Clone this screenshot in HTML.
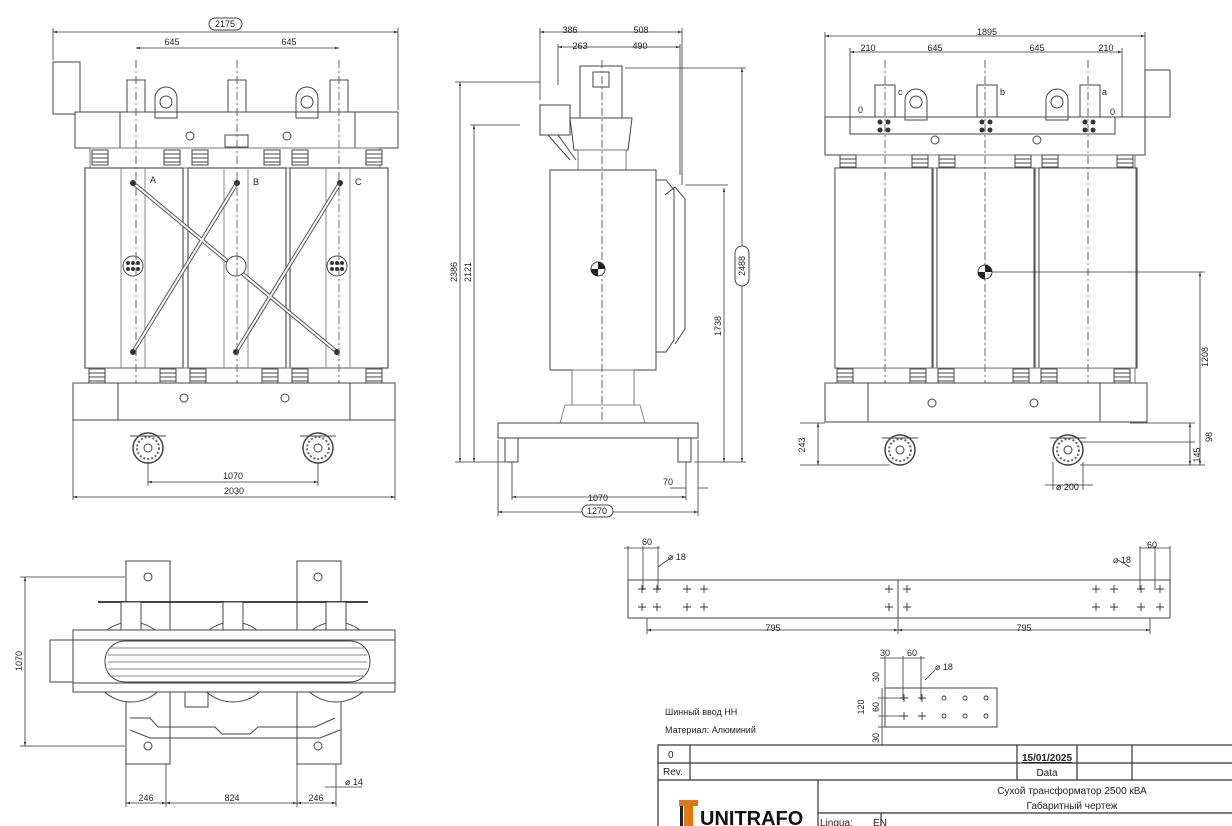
<!DOCTYPE html>
<html><head><meta charset="utf-8">
<style>
html,body{margin:0;padding:0;background:#fff;}
svg{display:block;font-family:"Liberation Sans","Noto Sans CJK SC",sans-serif;}
</style></head><body>
<svg width="1232" height="826" viewBox="0 0 1232 826" xmlns="http://www.w3.org/2000/svg">
<defs>
<marker id="a" viewBox="0 0 10 10" refX="10" refY="5" markerWidth="7" markerHeight="5" orient="auto-start-reverse"><path d="M0,2 L10,5 L0,8z" fill="#333"/></marker>
<g id="coil"><rect x="0" y="0" width="98" height="200" fill="#fff" stroke="#555" stroke-width="1.2"/><line x1="36" y1="0" x2="36" y2="200" stroke="#888"/><line x1="60" y1="0" x2="60" y2="200" stroke="#888"/></g>
<g id="wheel"><circle r="15" fill="#fff" stroke="#444" stroke-width="1.5"/><circle r="11" fill="none" stroke="#666" stroke-dasharray="2 2" stroke-width="2"/><circle r="4" fill="#fff" stroke="#444"/><line x1="-18" y1="-12" x2="18" y2="-12" stroke="#444"/></g>
<g id="ins"><rect x="-8" y="0" width="16" height="15" fill="#fff" stroke="#444"/><line x1="-8" y1="4" x2="8" y2="4" stroke="#444"/><line x1="-8" y1="8" x2="8" y2="8" stroke="#444"/><line x1="-8" y1="12" x2="8" y2="12" stroke="#444"/></g>
</defs>
<g fill="none" stroke="#444" stroke-width="1">
<!-- ===== FRONT VIEW ===== -->
<rect x="53" y="62" width="27" height="52" fill="#fff"/>
<rect x="75" y="112" width="323" height="36" fill="#fff"/>
<rect x="127" y="80" width="18" height="32"/><rect x="228" y="80" width="18" height="32"/><rect x="330" y="80" width="18" height="32"/>
<path d="M155,118 v-20 a11,11 0 0 1 22,0 v20z"/><circle cx="166" cy="102" r="6"/>
<path d="M296,118 v-20 a11,11 0 0 1 22,0 v20z"/><circle cx="307" cy="102" r="6"/>
<line x1="120" y1="112" x2="120" y2="148"/><line x1="355" y1="112" x2="355" y2="148"/>
<circle cx="190" cy="136" r="4"/><circle cx="287" cy="136" r="4"/>
<rect x="225" y="135" width="23" height="12"/>
<g stroke="#777"><rect x="90" y="148" width="290" height="20"/></g>
<use href="#ins" x="100" y="150"/><use href="#ins" x="172" y="150"/><use href="#ins" x="200" y="150"/><use href="#ins" x="272" y="150"/><use href="#ins" x="300" y="150"/><use href="#ins" x="374" y="150"/>
<use href="#coil" x="85" y="168"/><use href="#coil" x="188" y="168"/><use href="#coil" x="290" y="168"/>
<g stroke="#555" stroke-width="4"><line x1="133" y1="183" x2="337" y2="352"/><line x1="237" y1="183" x2="133" y2="352"/><line x1="340" y1="183" x2="236" y2="352"/></g>
<g stroke="#fff" stroke-width="2"><line x1="133" y1="183" x2="337" y2="352"/><line x1="237" y1="183" x2="133" y2="352"/><line x1="340" y1="183" x2="236" y2="352"/></g>
<circle cx="133" cy="266" r="10" fill="#fff"/><circle cx="236" cy="266" r="10" fill="#fff"/><circle cx="337" cy="266" r="10" fill="#fff"/>
<g fill="#333" stroke="none"><circle cx="128" cy="263" r="2"/><circle cx="133" cy="263" r="2"/><circle cx="138" cy="263" r="2"/><circle cx="128" cy="269" r="2"/><circle cx="133" cy="269" r="2"/><circle cx="138" cy="269" r="2"/>
<circle cx="332" cy="263" r="2"/><circle cx="337" cy="263" r="2"/><circle cx="342" cy="263" r="2"/><circle cx="332" cy="269" r="2"/><circle cx="337" cy="269" r="2"/><circle cx="342" cy="269" r="2"/>
<circle cx="133" cy="183" r="3"/><circle cx="237" cy="183" r="3"/><circle cx="340" cy="183" r="3"/><circle cx="133" cy="352" r="3"/><circle cx="236" cy="352" r="3"/><circle cx="337" cy="352" r="3"/></g>
<g stroke="#666" stroke-dasharray="8 3 2 3"><line x1="136" y1="60" x2="136" y2="420"/><line x1="237" y1="60" x2="237" y2="420"/><line x1="339" y1="60" x2="339" y2="420"/></g>
<rect x="90" y="368" width="290" height="15" stroke="#777"/>
<use href="#ins" x="97" y="369"/><use href="#ins" x="168" y="369"/><use href="#ins" x="198" y="369"/><use href="#ins" x="270" y="369"/><use href="#ins" x="300" y="369"/><use href="#ins" x="374" y="369"/>
<rect x="73" y="383" width="322" height="37" fill="#fff"/>
<line x1="118" y1="383" x2="118" y2="420"/><line x1="350" y1="383" x2="350" y2="420"/>
<circle cx="184" cy="398" r="4"/><circle cx="285" cy="398" r="4"/>
<use href="#wheel" x="148" y="448"/><use href="#wheel" x="318" y="448"/>
<!-- dims -->
<g stroke="#333" stroke-width="0.8">
<line x1="53" y1="32" x2="398" y2="32" marker-start="url(#a)" marker-end="url(#a)"/>
<line x1="53" y1="28" x2="53" y2="60"/><line x1="398" y1="28" x2="398" y2="110"/>
<line x1="136" y1="48" x2="339" y2="48" marker-start="url(#a)" marker-end="url(#a)"/>
<line x1="148" y1="482" x2="318" y2="482" marker-start="url(#a)" marker-end="url(#a)"/>
<line x1="148" y1="462" x2="148" y2="486"/><line x1="318" y1="462" x2="318" y2="486"/>
<line x1="73" y1="497" x2="395" y2="497" marker-start="url(#a)" marker-end="url(#a)"/>
<line x1="73" y1="420" x2="73" y2="500"/><line x1="395" y1="420" x2="395" y2="500"/>
</g>
<rect x="209" y="18" width="33" height="12" rx="6" fill="#fff"/>

<!-- ===== SIDE VIEW ===== -->
<rect x="580" y="66" width="42" height="52" fill="#fff"/>
<rect x="593" y="72" width="16" height="15"/>
<path d="M570,118 L632,118 L628,150 L574,150z"/>
<rect x="540" y="105" width="30" height="30"/>
<path d="M548,135 L570,160 M558,135 L576,160"/>
<rect x="578" y="150" width="48" height="20" stroke="#777"/>
<rect x="550" y="170" width="106" height="200" fill="#fff"/>
<path d="M656,180 h10 l8,10 v150 l-8,12 h-10"/>
<path d="M665,195 l10,-8 l10,12 v130 l-10,15"/>
<rect x="572" y="370" width="62" height="35" stroke="#777"/>
<path d="M565,405 L640,405 L645,423 L560,423z" stroke="#888"/>
<rect x="498" y="423" width="200" height="15" fill="#fff"/>
<rect x="505" y="438" width="13" height="24"/><rect x="678" y="438" width="13" height="24"/>
<line x1="602" y1="60" x2="602" y2="420" stroke="#666" stroke-dasharray="8 3 2 3"/>
<g stroke="#333" stroke-width="0.8">
<line x1="540" y1="32" x2="682" y2="32" marker-start="url(#a)" marker-end="url(#a)"/>
<line x1="558" y1="47" x2="680" y2="47" marker-start="url(#a)" marker-end="url(#a)"/>
<line x1="540" y1="28" x2="540" y2="100"/><line x1="682" y1="28" x2="682" y2="185"/><line x1="558" y1="44" x2="558" y2="85"/><line x1="680" y1="44" x2="680" y2="175"/>
<line x1="460" y1="82" x2="460" y2="462" marker-start="url(#a)" marker-end="url(#a)"/>
<line x1="455" y1="82" x2="540" y2="82"/>
<line x1="474" y1="125" x2="474" y2="462" marker-start="url(#a)" marker-end="url(#a)"/>
<line x1="470" y1="125" x2="520" y2="125"/>
<line x1="455" y1="462" x2="505" y2="462"/>
<line x1="742" y1="68" x2="742" y2="462" marker-start="url(#a)" marker-end="url(#a)"/>
<line x1="625" y1="68" x2="746" y2="68"/>
<line x1="724" y1="188" x2="724" y2="462" marker-start="url(#a)" marker-end="url(#a)"/>
<line x1="685" y1="185" x2="728" y2="185"/><line x1="694" y1="462" x2="746" y2="462"/>
<line x1="512" y1="497" x2="686" y2="497" marker-start="url(#a)" marker-end="url(#a)"/>
<line x1="498" y1="512" x2="698" y2="512" marker-start="url(#a)" marker-end="url(#a)"/>
<line x1="498" y1="440" x2="498" y2="516"/><line x1="698" y1="440" x2="698" y2="516"/>
<line x1="512" y1="462" x2="512" y2="500"/><line x1="686" y1="462" x2="686" y2="500"/>
<line x1="670" y1="488" x2="686" y2="488"/><line x1="698" y1="488" x2="708" y2="488"/>
</g>
<rect x="735" y="246" width="14" height="40" rx="7" fill="#fff"/>
<rect x="582" y="505" width="31" height="12" rx="6" fill="#fff"/>
<circle cx="598" cy="269" r="7" fill="#fff"/><path d="M598,262 a7,7 0 0 1 7,7 h-7z M598,276 a7,7 0 0 1 -7,-7 h7z" fill="#222" stroke="none"/>

<!-- ===== RIGHT VIEW ===== -->
<rect x="1145" y="70" width="25" height="47" fill="#fff"/>
<rect x="825" y="117" width="320" height="38" fill="#fff"/>
<rect x="850" y="117" width="265" height="17"/>
<rect x="875" y="85" width="20" height="32"/><rect x="977" y="85" width="20" height="32"/><rect x="1080" y="85" width="20" height="32"/>
<path d="M905,120 v-20 a11,11 0 0 1 22,0 v20z"/><circle cx="916" cy="102" r="6"/>
<path d="M1046,120 v-20 a11,11 0 0 1 22,0 v20z"/><circle cx="1057" cy="102" r="6"/>
<g fill="#333" stroke="none"><circle cx="880" cy="122" r="2.5"/><circle cx="888" cy="122" r="2.5"/><circle cx="880" cy="130" r="2.5"/><circle cx="888" cy="130" r="2.5"/><circle cx="982" cy="122" r="2.5"/><circle cx="990" cy="122" r="2.5"/><circle cx="982" cy="130" r="2.5"/><circle cx="990" cy="130" r="2.5"/><circle cx="1085" cy="122" r="2.5"/><circle cx="1093" cy="122" r="2.5"/><circle cx="1085" cy="130" r="2.5"/><circle cx="1093" cy="130" r="2.5"/></g>
<circle cx="935" cy="140" r="4"/><circle cx="1037" cy="140" r="4"/>
<rect x="840" y="155" width="295" height="13" stroke="#777"/>
<use href="#ins" x="848" y="155"/><use href="#ins" x="920" y="155"/><use href="#ins" x="947" y="155"/><use href="#ins" x="1023" y="155"/><use href="#ins" x="1050" y="155"/><use href="#ins" x="1125" y="155"/>
<use href="#coil" x="835" y="168"/><use href="#coil" x="937" y="168"/><use href="#coil" x="1039" y="168"/>
<rect x="835" y="168" width="97" height="200" fill="#fff" stroke="#555"/><rect x="937" y="168" width="97" height="200" fill="#fff" stroke="#555"/><rect x="1039" y="168" width="97" height="200" fill="#fff" stroke="#555"/>
<g stroke="#666" stroke-dasharray="8 3 2 3"><line x1="885" y1="60" x2="885" y2="420"/><line x1="985" y1="60" x2="985" y2="420"/><line x1="1088" y1="60" x2="1088" y2="420"/></g>
<circle cx="985" cy="272" r="7" fill="#fff"/><path d="M985,265 a7,7 0 0 1 7,7 h-7z M985,279 a7,7 0 0 1 -7,-7 h7z" fill="#222" stroke="none"/>
<rect x="840" y="368" width="295" height="15" stroke="#777"/>
<use href="#ins" x="845" y="369"/><use href="#ins" x="918" y="369"/><use href="#ins" x="946" y="369"/><use href="#ins" x="1021" y="369"/><use href="#ins" x="1049" y="369"/><use href="#ins" x="1122" y="369"/>
<rect x="825" y="383" width="322" height="39" fill="#fff"/>
<line x1="868" y1="383" x2="868" y2="422"/><line x1="1100" y1="383" x2="1100" y2="422"/>
<circle cx="932" cy="403" r="4"/><circle cx="1034" cy="403" r="4"/>
<use href="#wheel" x="900" y="450"/><use href="#wheel" x="1068" y="450"/>
<g stroke="#333" stroke-width="0.8">
<line x1="825" y1="36" x2="1145" y2="36" marker-start="url(#a)" marker-end="url(#a)"/>
<line x1="825" y1="32" x2="825" y2="117"/><line x1="1145" y1="32" x2="1145" y2="70"/>
<line x1="850" y1="52" x2="1122" y2="52" marker-start="url(#a)" marker-end="url(#a)"/>
<line x1="850" y1="48" x2="850" y2="117"/><line x1="1122" y1="48" x2="1122" y2="117"/>
<line x1="992" y1="272" x2="1205" y2="272"/>
<line x1="1200" y1="272" x2="1200" y2="465" marker-start="url(#a)" marker-end="url(#a)"/>
<line x1="1190" y1="423" x2="1190" y2="465" marker-start="url(#a)" marker-end="url(#a)"/>
<line x1="1190" y1="442" x2="1190" y2="465"/>
<line x1="1080" y1="442" x2="1195" y2="442"/>
<line x1="1080" y1="465" x2="1205" y2="465"/><line x1="1130" y1="423" x2="1195" y2="423"/>
<line x1="818" y1="423" x2="818" y2="465" marker-start="url(#a)" marker-end="url(#a)"/>
<line x1="800" y1="465" x2="890" y2="465"/><line x1="800" y1="423" x2="825" y2="423"/>
<line x1="1045" y1="485" x2="1093" y2="485"/>
<line x1="1053" y1="462" x2="1053" y2="490"/><line x1="1083" y1="462" x2="1083" y2="490"/>
</g>

<!-- ===== PLAN VIEW ===== -->
<rect x="126" y="561" width="44" height="203" fill="#fff"/>
<rect x="297" y="561" width="44" height="203" fill="#fff"/>
<circle cx="148" cy="577" r="4"/><circle cx="318" cy="577" r="4"/><circle cx="148" cy="746" r="4"/><circle cx="318" cy="746" r="4"/>
<circle cx="131" cy="662" r="40" fill="#fff"/><circle cx="233" cy="662" r="40" fill="#fff"/><circle cx="336" cy="662" r="40" fill="#fff"/>
<line x1="98" y1="602" x2="368" y2="602" stroke-width="2"/>
<rect x="121" y="602" width="20" height="30" fill="#fff"/><rect x="223" y="602" width="20" height="30" fill="#fff"/><rect x="326" y="602" width="20" height="30" fill="#fff"/>
<rect x="50" y="640" width="23" height="42" fill="#fff"/>
<rect x="73" y="630" width="322" height="62" fill="#fff"/>
<rect x="73" y="630" width="322" height="10"/><rect x="73" y="683" width="322" height="9"/>
<rect x="105" y="641" width="265" height="41" rx="20" fill="#fff"/>
<g stroke="#888"><line x1="110" y1="648" x2="365" y2="648"/><line x1="108" y1="655" x2="367" y2="655"/><line x1="108" y1="662" x2="367" y2="662"/><line x1="108" y1="669" x2="367" y2="669"/><line x1="110" y1="676" x2="365" y2="676"/></g>
<rect x="185" y="692" width="23" height="15"/>
<path d="M130,718 L150,718 L158,727 L215,727 L222,734 L250,734 L258,727 L315,727 L335,718 M130,730 L150,738 L320,738 L340,730"/>
<g stroke="#333" stroke-width="0.8">
<line x1="25" y1="577" x2="25" y2="746" marker-start="url(#a)" marker-end="url(#a)"/>
<line x1="20" y1="577" x2="125" y2="577"/><line x1="20" y1="746" x2="125" y2="746"/>
<line x1="126" y1="803" x2="166" y2="803" marker-start="url(#a)" marker-end="url(#a)"/>
<line x1="166" y1="803" x2="297" y2="803" marker-start="url(#a)" marker-end="url(#a)"/>
<line x1="297" y1="803" x2="336" y2="803" marker-start="url(#a)" marker-end="url(#a)"/>
<line x1="126" y1="764" x2="126" y2="807"/><line x1="166" y1="764" x2="166" y2="807"/><line x1="297" y1="764" x2="297" y2="807"/><line x1="336" y1="764" x2="336" y2="807"/>
<line x1="325" y1="787" x2="362" y2="787"/>
</g>

<!-- ===== BUSBAR ===== -->
<rect x="628" y="580" width="542" height="38" fill="#fff"/>
<line x1="898" y1="580" x2="898" y2="618"/>
<g stroke="#333" stroke-width="0.8">
<line x1="628" y1="546" x2="628" y2="580"/><line x1="643" y1="546" x2="643" y2="590"/><line x1="658" y1="546" x2="658" y2="590"/>
<line x1="624" y1="548" x2="660" y2="548"/>
<line x1="1140" y1="548" x2="1170" y2="548"/><line x1="1140" y1="546" x2="1140" y2="590"/><line x1="1155" y1="546" x2="1155" y2="590"/><line x1="1170" y1="546" x2="1170" y2="580"/>
<line x1="647" y1="630" x2="898" y2="630" marker-start="url(#a)" marker-end="url(#a)"/>
<line x1="898" y1="630" x2="1150" y2="630" marker-start="url(#a)" marker-end="url(#a)"/>
<line x1="647" y1="618" x2="647" y2="634"/><line x1="898" y1="618" x2="898" y2="634"/><line x1="1150" y1="618" x2="1150" y2="634"/>
<line x1="658" y1="567" x2="672" y2="557"/><line x1="1130" y1="567" x2="1118" y2="560"/>
</g>
<g stroke="#333" stroke-width="0.9">
<path d="M638,589h8M642,585v8 M638,607h8M642,603v8 M653,589h8M657,585v8 M653,607h8M657,603v8 M683,589h8M687,585v8 M683,607h8M687,603v8 M700,589h8M704,585v8 M700,607h8M704,603v8 M885,589h8M889,585v8 M885,607h8M889,603v8 M903,589h8M907,585v8 M903,607h8M907,603v8 M1092,589h8M1096,585v8 M1092,607h8M1096,603v8 M1110,589h8M1114,585v8 M1110,607h8M1114,603v8 M1137,589h8M1141,585v8 M1137,607h8M1141,603v8 M1156,589h8M1160,585v8 M1156,607h8M1160,603v8"/>
</g>
<rect x="885" y="688" width="112" height="39" fill="#fff"/>
<g stroke="#333" stroke-width="0.9"><path d="M900,698h8M904,694v8 M900,716h8M904,712v8 M918,698h8M922,694v8 M918,716h8M922,712v8"/>
<circle cx="944" cy="698" r="2"/><circle cx="965" cy="698" r="2"/><circle cx="986" cy="698" r="2"/><circle cx="944" cy="716" r="2"/><circle cx="965" cy="716" r="2"/><circle cx="986" cy="716" r="2"/></g>
<g stroke="#333" stroke-width="0.8">
<line x1="885" y1="656" x2="885" y2="688"/><line x1="903" y1="656" x2="903" y2="700"/><line x1="921" y1="656" x2="921" y2="700"/>
<line x1="880" y1="658" x2="925" y2="658"/>
<line x1="882" y1="688" x2="882" y2="745"/><line x1="878" y1="698" x2="900" y2="698"/><line x1="878" y1="716" x2="900" y2="716"/><line x1="878" y1="727" x2="885" y2="727"/>
<line x1="925" y1="680" x2="935" y2="670"/>
</g>

<!-- ===== TITLE BLOCK ===== -->
<g stroke="#333" stroke-width="1.2">
<rect x="658" y="745" width="580" height="90"/>
<line x1="658" y1="763" x2="1232" y2="763"/><line x1="658" y1="780" x2="1232" y2="780"/>
<line x1="690" y1="745" x2="690" y2="780"/><line x1="1017" y1="745" x2="1017" y2="780"/><line x1="1077" y1="745" x2="1077" y2="780"/><line x1="1132" y1="745" x2="1132" y2="780"/>
<line x1="818" y1="780" x2="818" y2="826"/><line x1="818" y1="813" x2="1232" y2="813"/><line x1="881" y1="813" x2="881" y2="826"/>
</g>
</g>
<g fill="#e07a10"><rect x="679" y="800" width="19" height="6"/><path d="M684,806 h9 v20 h-9z"/></g>
<rect x="680" y="806" width="3" height="20" fill="#222"/>
<!-- TEXT -->
<g fill="#222" font-size="9">
<text x="225" y="27" text-anchor="middle">2175</text>
<text x="172" y="45" text-anchor="middle">645</text><text x="289" y="45" text-anchor="middle">645</text>
<text x="150" y="183">A</text><text x="253" y="185">B</text><text x="355" y="185">C</text>
<text x="233" y="479" text-anchor="middle">1070</text><text x="234" y="494" text-anchor="middle">2030</text>
<text x="570" y="33" text-anchor="middle">386</text><text x="641" y="33" text-anchor="middle">508</text>
<text x="580" y="49" text-anchor="middle">263</text><text x="640" y="49" text-anchor="middle">490</text>
<text x="598" y="501" text-anchor="middle">1070</text><text x="597" y="514" text-anchor="middle">1270</text>
<text x="663" y="485">70</text>
<text transform="translate(457,272) rotate(-90)" text-anchor="middle">2386</text>
<text transform="translate(471,272) rotate(-90)" text-anchor="middle">2121</text>
<text transform="translate(745,266) rotate(-90)" text-anchor="middle">2488</text>
<text transform="translate(721,326) rotate(-90)" text-anchor="middle">1738</text>
<text x="987" y="35" text-anchor="middle">1895</text>
<text x="868" y="51" text-anchor="middle">210</text><text x="935" y="51" text-anchor="middle">645</text><text x="1037" y="51" text-anchor="middle">645</text><text x="1106" y="51" text-anchor="middle">210</text>
<text x="898" y="95">c</text><text x="1000" y="95">b</text><text x="1102" y="95">a</text>
<text x="858" y="113">0</text><text x="1110" y="115">0</text>
<text transform="translate(1208,357) rotate(-90)" text-anchor="middle">1208</text>
<text transform="translate(1212,437) rotate(-90)" text-anchor="middle">98</text>
<text transform="translate(1200,455) rotate(-90)" text-anchor="middle">145</text>
<text transform="translate(805,445) rotate(-90)" text-anchor="middle">243</text>
<text x="1056" y="490">⌀ 200</text>
<text transform="translate(22,661) rotate(-90)" text-anchor="middle">1070</text>
<text x="146" y="801" text-anchor="middle">246</text><text x="232" y="801" text-anchor="middle">824</text><text x="316" y="801" text-anchor="middle">246</text>
<text x="345" y="785">⌀ 14</text>
<text x="647" y="545" text-anchor="middle">60</text><text x="668" y="560">⌀ 18</text>
<text x="1152" y="548" text-anchor="middle">60</text><text x="1113" y="563">⌀ 18</text>
<text x="773" y="631" text-anchor="middle">795</text><text x="1024" y="631" text-anchor="middle">795</text>
<text x="885" y="656" text-anchor="middle">30</text><text x="912" y="656" text-anchor="middle">60</text><text x="935" y="670">⌀ 18</text>
<text transform="translate(879,677) rotate(-90)" text-anchor="middle">30</text>
<text transform="translate(864,707) rotate(-90)" text-anchor="middle">120</text>
<text transform="translate(879,707) rotate(-90)" text-anchor="middle">60</text>
<text transform="translate(879,738) rotate(-90)" text-anchor="middle">30</text>
<text x="665" y="715">Шинный ввод НН</text>
<text x="665" y="733">Материал: Алюминий</text>
<text x="668" y="758" font-size="10">0</text>
<text x="663" y="775" font-size="10">Rev.</text>
<text x="1047" y="761" font-size="10" text-anchor="middle" text-decoration="underline" font-weight="bold">15/01/2025</text>
<text x="1047" y="776" font-size="10" text-anchor="middle">Data</text>
<text x="1072" y="794" font-size="10" text-anchor="middle">Сухой трансформатор 2500 кВА</text>
<text x="1072" y="809" font-size="10" text-anchor="middle">Габаритный чертеж</text>
<text x="820" y="826" font-size="10">Lingua:</text><text x="873" y="826" font-size="10">EN</text>
<text x="700" y="825" font-size="20" font-weight="bold" fill="#111">UNITRAFO</text>
</g>
</svg>
</body></html>
